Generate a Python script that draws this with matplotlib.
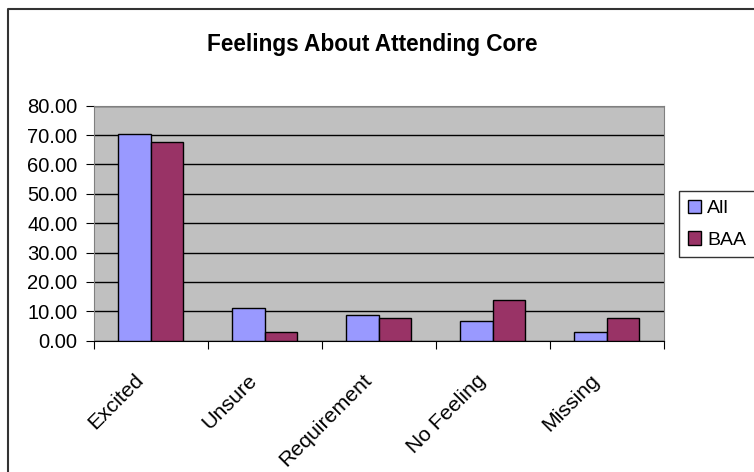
import matplotlib
matplotlib.use('Agg')
import matplotlib.pyplot as plt
import matplotlib.transforms as mtransforms
import numpy as np
from matplotlib.lines import Line2D
from matplotlib.ticker import FormatStrFormatter

categories = ['Excited', 'Unsure', 'Requirement', 'No Feeling', 'Missing']
all_vals = [70.2, 11.0, 8.9, 6.8, 3.0]
baa_vals = [67.6, 3.0, 7.6, 13.9, 7.6]

plt.rcParams['font.family'] = ['Liberation Sans', 'DejaVu Sans']

fig = plt.figure(figsize=(7.54, 4.72), dpi=100)
ax = fig.add_axes([94 / 754, 1 - 340.7 / 472, (663.5 - 94) / 754, (340.7 - 105.7) / 472])

x = np.arange(len(categories))
w = 0.285
ax.bar(x - w / 2, all_vals, w, color='#9999FF', edgecolor='black', linewidth=1, label='All', zorder=3)
ax.bar(x + w / 2, baa_vals, w, color='#993366', edgecolor='black', linewidth=1, label='BAA', zorder=3)

ax.set_facecolor('#C0C0C0')
ax.set_xlim(-0.5, len(categories) - 0.5)
ax.set_ylim(0, 80)
ax.set_yticks(np.arange(0, 81, 10))
ax.yaxis.set_major_formatter(FormatStrFormatter('%.2f'))
ax.yaxis.grid(True, color='black', linewidth=1)
ax.set_axisbelow(True)

# category boundaries as ticks, labels at centres
ax.set_xticks(np.arange(-0.5, len(categories), 1))
ax.set_xticklabels([])
ax.set_xticks(x, minor=True)
ax.set_xticklabels(categories, minor=True, rotation=45, ha='right', va='top',
                   rotation_mode='anchor', fontsize=15.3)
ax.tick_params(axis='x', which='minor', length=0, pad=10)
ax.tick_params(axis='x', which='major', length=6, direction='out', color='black')
ax.tick_params(axis='y', length=6, direction='out', labelsize=14.5, pad=6)

# nudge the slanted labels down-left like the original
shift = mtransforms.ScaledTranslation(-17 / 100, -16 / 100, fig.dpi_scale_trans)
for lab in ax.get_xticklabels(minor=True):
    lab.set_transform(lab.get_transform() + shift)

for s in ['top', 'right', 'left']:
    ax.spines[s].set_color('#808080')
ax.spines['bottom'].set_color('black')

fig.text(372 / 754, 1 - 45 / 472, 'Feelings About Attending Core', ha='center', va='center',
         fontsize=16.3, fontweight='bold')

leg = fig.legend(loc='upper left', bbox_to_anchor=(679 / 754, 1 - 191 / 472), fontsize=14,
                 frameon=True, fancybox=False, borderaxespad=0, handlelength=0.7,
                 handleheight=0.7, handletextpad=0.3, borderpad=0.45, labelspacing=0.7)
leg.get_frame().set_edgecolor('black')
leg.get_frame().set_linewidth(1)

# outer chart border (right and bottom cut off)
fig.add_artist(Line2D([8 / 754, 8 / 754, 1.0], [0, 1 - 9 / 472, 1 - 9 / 472],
                      color='#333333', linewidth=1.5, transform=fig.transFigure))

fig.savefig('out.png', dpi=100)
